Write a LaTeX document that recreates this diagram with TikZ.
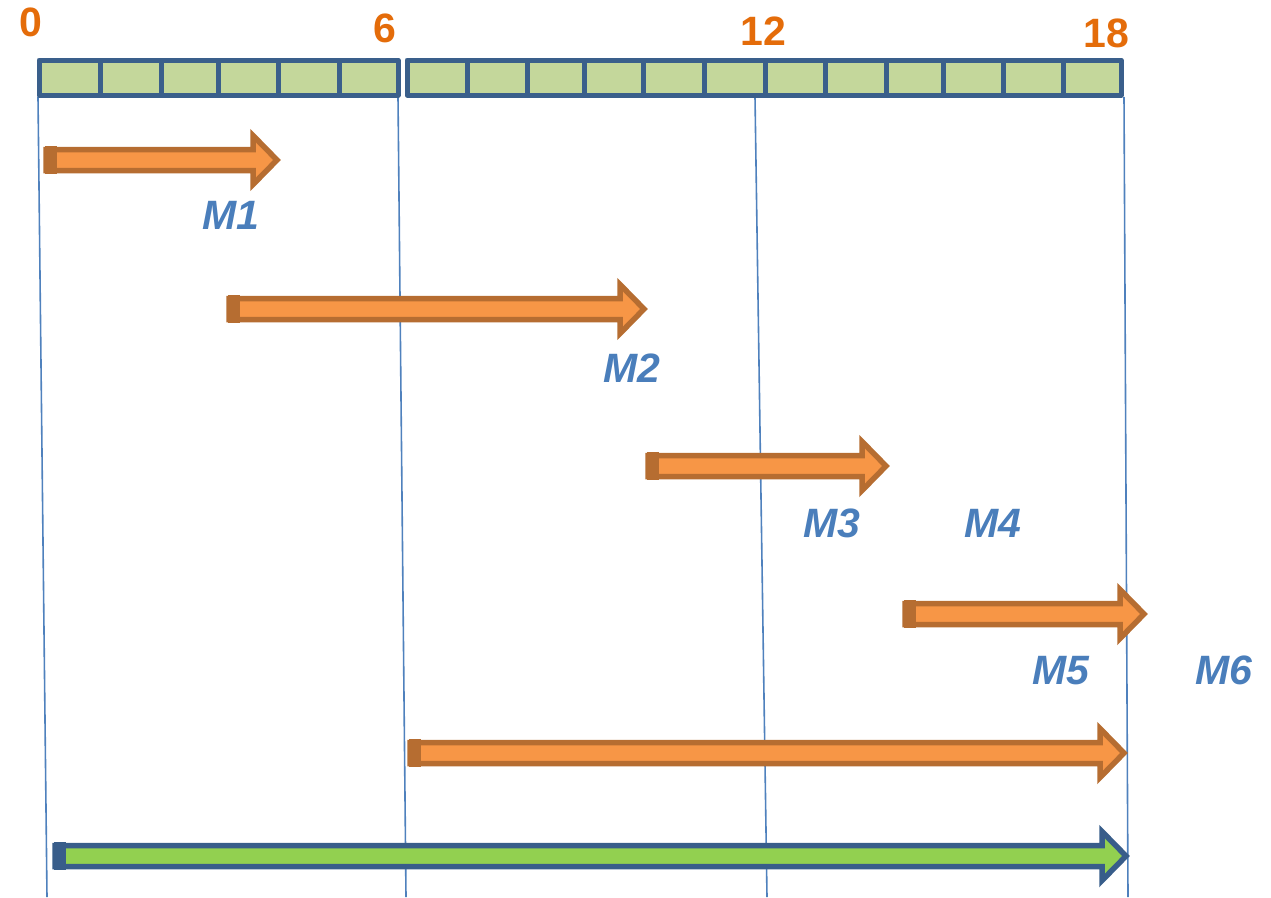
\documentclass[tikz,border=0pt]{standalone}
\usepackage{fontspec}
\setmainfont{Liberation Sans}
\definecolor{cellfill}{HTML}{C4D79B}
\definecolor{cellline}{HTML}{3A5F8B}
\definecolor{numorange}{HTML}{E46C0A}
\definecolor{labblue}{HTML}{4A7EBB}
\definecolor{guide}{HTML}{4F81BD}
\definecolor{arrfill}{HTML}{F79646}
\definecolor{arrline}{HTML}{B66D31}
\definecolor{grnfill}{HTML}{92D050}
\definecolor{grnline}{HTML}{385D8A}
\tikzset{
  cell/.style={fill=cellfill,draw=cellline,line width=5pt,line join=round},
  num/.style={text=numorange,font=\fontsize{41}{41}\selectfont\bfseries,inner sep=0pt},
  mlab/.style={text=labblue,font=\fontsize{41}{41}\selectfont\bfseries\itshape,inner sep=0pt},
  guideline/.style={draw=guide,line width=1.6pt},
}
% block arrow: #1 fill, #2 line, #3 tail x, #4 tip x, #5 y
\newcommand\blkarrow[5]{%
  \filldraw[fill=#1,draw=#2,line width=5.5pt,line join=miter]
    (#3,#5-10.5) -- (#4-27,#5-10.5) -- (#4-27,#5-24.5) -- (#4-3,#5)
    -- (#4-27,#5+24.5) -- (#4-27,#5+10.5) -- (#3,#5+10.5) -- cycle;
  \fill[#2] (#3-1,#5-14) rectangle (#3+11,#5+14);
}
\begin{document}
\begin{tikzpicture}[x=1pt,y=-1pt]
\useasboundingbox (0,0) rectangle (1271,897);
% guide lines
\coordinate (g0t) at (38,97);   \coordinate (g0b) at (47,897);
\coordinate (g6t) at (398,97);  \coordinate (g6b) at (406,897);
\coordinate (g12t) at (755,97); \coordinate (g12b) at (767,897);
\coordinate (g18t) at (1124,97);\coordinate (g18b) at (1128,897);
\draw[guideline] (g0t) -- (g0b);
\draw[guideline] (g6t) -- (g6b);
\draw[guideline] (g12t) -- (g12b);
\draw[guideline] (g18t) -- (g18b);
% timeline cells
\foreach \a/\b in {39/100,100/161,161/218,218/278,278/339,339/398,
                   407/467,467/527,527/584,584/643,643/704,704/765,765/825,
                   825/886,886/943,943/1003,1003/1063,1063/1121}
  \draw[cell] (\a,60) rectangle (\b,95);
% numbers
\node[num] (n0) at (31,22) {0};
\node[num] (n6) at (385,28) {6};
\node[num] (n12) at (763,31) {12};
\node[num] (n18) at (1106,33) {18};
% arrows
\blkarrow{arrfill}{arrline}{46}{280}{160}
\blkarrow{arrfill}{arrline}{229}{647}{309}
\blkarrow{arrfill}{arrline}{648}{889}{466}
\blkarrow{arrfill}{arrline}{905}{1147}{614}
\blkarrow{arrfill}{arrline}{410}{1127}{753}
\blkarrow{grnfill}{grnline}{55}{1129}{856}
% labels
\node[mlab] (m1) at (231,215) {M1};
\node[mlab] (m2) at (632,368) {M2};
\node[mlab] (m3) at (832,523) {M3};
\node[mlab] (m4) at (993,523) {M4};
\node[mlab] (m5) at (1061,671) {M5};
\node[mlab] (m6) at (1224,670) {M6};
\end{tikzpicture}
\end{document}
